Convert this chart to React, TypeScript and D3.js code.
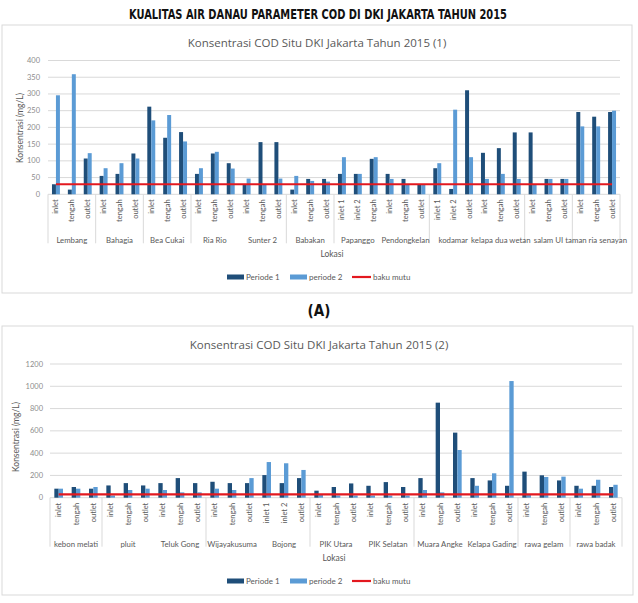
import * as d3 from "d3";

const PERIODE1_COLOR = "#1f4e79";
const PERIODE2_COLOR = "#5b9bd5";
const BAKU_COLOR = "#e3181f";
const GRID = "#d9d9d9";
const TEXT = "#595959";
const FONT = "Lato, 'Open Sans', sans-serif";

const bakuMutu = 30;
const legendLabels = ["Periode 1", "periode 2", "baku mutu"];

// chart (1)
const topGroups = [
  "Lembang", "Bahagia", "Bea Cukai", "Ria Rio", "Sunter 2", "Babakan",
  "Papanggo", "Pendongkelan", "kodamar", "kelapa dua wetan", "salam UI",
  "taman ria senayan",
];
const topPoints = [
  ["inlet", "tengah", "outlet"], ["inlet", "tengah", "outlet"],
  ["inlet", "tengah", "outlet"], ["inlet", "tengah", "outlet"],
  ["inlet", "tengah", "outlet"], ["inlet", "tengah", "outlet"],
  ["inlet 1", "inlet 2", "tengah"], ["inlet", "tengah", "outlet"],
  ["inlet 1", "inlet 2", "outlet"], ["inlet", "tengah", "outlet"],
  ["inlet", "tengah", "outlet"], ["inlet", "tengah", "outlet"],
];
const topPeriode1 = [
  30, 14, 107, 55, 61, 122, 262, 169, 186, 61, 122, 93, 30, 156, 156, 14, 46, 46,
  61, 61, 106, 61, 46, 30, 78, 16, 311, 124, 138, 185, 185, 46, 46, 246, 232, 246,
];
const topPeriode2 = [
  296, 359, 123, 78, 93, 107, 221, 237, 158, 78, 127, 77, 47, 30, 47, 55, 40, 38,
  111, 61, 111, 46, 30, 30, 93, 253, 111, 46, 61, 46, 30, 46, 46, 203, 203, 250,
];
const topDividers = [1, 2, 3, 5, 6, 8, 10, 11];
const topTicks = [0, 50, 100, 150, 200, 250, 300, 350, 400];

// chart (2)
const bottomGroups = [
  "kebon melati", "pluit", "Teluk Gong", "Wijayakusuma", "Bojong", "PIK Utara",
  "PIK Selatan", "Muara Angke", "Kelapa Gading", "rawa gelam", "rawa badak",
];
const bottomPoints = [
  ["inlet", "tengah", "outlet"], ["inlet", "tengah", "outlet"],
  ["inlet", "tengah", "outlet"], ["inlet", "tengah", "outlet"],
  ["inlet 1", "inlet 2", "outlet"], ["inlet", "tengah", "outlet"],
  ["inlet", "tengah", "outlet"], ["inlet", "tengah", "outlet"],
  ["inlet", "tengah", "outlet"], ["inlet", "tengah", "outlet"],
  ["inlet", "tengah", "outlet"],
];
const bottomPeriode1 = [
  81, 96, 81, 110, 131, 110, 131, 176, 131, 143, 131, 131, 203, 131, 176,
  63, 96, 128, 107, 140, 96, 176, 853, 584, 176, 155, 107, 234, 201, 155, 107, 107, 96,
];
const bottomPeriode2 = [
  81, 81, 96, 20, 69, 81, 69, 48, 48, 81, 69, 176, 320, 309, 249,
  24, 20, 20, 20, 20, 20, 69, 48, 428, 107, 219, 1047, 24, 186, 189, 81, 161, 116,
];
const bottomDividers = [1, 3, 5, 7, 9, 10];
const bottomTicks = [0, 200, 400, 600, 800, 1000, 1200];

type PanelProps = {
  box: [number, number, number, number];
  title: string;
  titleY: number;
  plotX: [number, number];
  plotY: [number, number];
  ticks: number[];
  tickRight: number;
  yLabelX: number;
  yLabelY: number;
  groups: string[];
  points: string[][];
  p1: number[];
  p2: number[];
  dividers: number[];
  legendY: number;
};

function Panel(props: PanelProps) {
  const { box, plotX, plotY, ticks, groups, points } = props;
  const cats = points.flatMap((pts, g) => pts.map((p, j) => `${g}-${j}`));
  const x = d3.scaleBand<string>().domain(cats).range(plotX);
  const y = d3
    .scaleLinear()
    .domain([0, ticks[ticks.length - 1]])
    .range(plotY);
  const bw = x.bandwidth() * 0.25;
  const center = (c: string) => (x(c) ?? 0) + x.bandwidth() / 2;
  const bottom = plotY[0];

  const line = d3
    .line<string>()
    .x((c) => center(c))
    .y(() => y(bakuMutu));

  const labelTop = bottom + 5;
  const groupY = bottom + 46;
  const divEnd = bottom + 49;

  return (
    <g>
      <rect
        x={box[0]}
        y={box[1]}
        width={box[2] - box[0]}
        height={box[3] - box[1]}
        fill="white"
        stroke={GRID}
      />
      <text
        x={(plotX[0] + plotX[1]) / 2 - 17}
        y={props.titleY}
        textAnchor="middle"
        fontSize={11.5}
        fill={TEXT}
        fontFamily="'Open Sans', sans-serif"
      >
        {props.title}
      </text>
      {ticks.map((t) => (
        <g key={t}>
          <line x1={plotX[0]} x2={plotX[1]} y1={y(t)} y2={y(t)} stroke={GRID} />
          <text
            x={props.tickRight}
            y={y(t)}
            textAnchor="end"
            dominantBaseline="central"
            fontSize={7.5}
            fill="#8c8c8c"
            fontFamily={FONT}
          >
            {t}
          </text>
        </g>
      ))}
      <text
        transform={`translate(${props.yLabelX},${props.yLabelY}) rotate(-90)`}
        textAnchor="middle"
        dominantBaseline="central"
        fontSize={8.5}
        fill={TEXT}
        fontFamily={FONT}
      >
        Konsentrasi (mg/L)
      </text>
      {cats.map((c, i) => (
        <g key={c}>
          <rect
            x={center(c) - bw}
            y={y(props.p1[i])}
            width={bw}
            height={bottom - y(props.p1[i])}
            fill={PERIODE1_COLOR}
          />
          <rect
            x={center(c)}
            y={y(props.p2[i])}
            width={bw}
            height={bottom - y(props.p2[i])}
            fill={PERIODE2_COLOR}
          />
        </g>
      ))}
      <path d={line(cats) ?? ""} stroke={BAKU_COLOR} strokeWidth={2.2} fill="none" />
      {cats.map((c, i) => {
        const [g, j] = c.split("-").map(Number);
        return (
          <text
            key={`lab-${i}`}
            transform={`translate(${center(c)},${labelTop}) rotate(-90)`}
            textAnchor="end"
            dominantBaseline="central"
            fontSize={7.5}
            fill={TEXT}
            fontFamily={FONT}
          >
            {points[g][j]}
          </text>
        );
      })}
      {[0, ...props.dividers, groups.length].map((g) => {
        const idx = points.slice(0, g).reduce((s, p) => s + p.length, 0);
        const xx = idx < cats.length ? x(cats[idx]) ?? 0 : plotX[1];
        return (
          <line
            key={`div-${g}`}
            x1={xx}
            x2={xx}
            y1={bottom}
            y2={divEnd}
            stroke={GRID}
          />
        );
      })}
      {groups.map((name, g) => {
        const idx = points.slice(0, g).reduce((s, p) => s + p.length, 0);
        const first = cats[idx];
        const last = cats[idx + points[g].length - 1];
        return (
          <text
            key={name}
            x={(center(first) + center(last)) / 2}
            y={groupY}
            textAnchor="middle"
            dominantBaseline="central"
            fontSize={7.8}
            fill={TEXT}
            fontFamily={FONT}
          >
            {name}
          </text>
        );
      })}
      <text
        x={(plotX[0] + plotX[1]) / 2 - 2}
        y={groupY + 14}
        textAnchor="middle"
        dominantBaseline="central"
        fontSize={8.5}
        fill={TEXT}
        fontFamily={FONT}
      >
        Lokasi
      </text>
      <g fontFamily={FONT} fontSize={8} fill={TEXT}>
        <rect x={227} y={props.legendY - 2.5} width={17} height={5} fill={PERIODE1_COLOR} />
        <text x={246} y={props.legendY} dominantBaseline="central">
          {legendLabels[0]}
        </text>
        <rect x={290} y={props.legendY - 2.5} width={17} height={5} fill={PERIODE2_COLOR} />
        <text x={309} y={props.legendY} dominantBaseline="central">
          {legendLabels[1]}
        </text>
        <line
          x1={352}
          x2={371}
          y1={props.legendY}
          y2={props.legendY}
          stroke={BAKU_COLOR}
          strokeWidth={2.2}
        />
        <text x={373} y={props.legendY} dominantBaseline="central">
          {legendLabels[2]}
        </text>
      </g>
    </g>
  );
}

export default function App() {
  return (
    <svg
      width={638}
      height={603}
      style={{ position: "absolute", left: 0, top: 0, background: "white" }}
    >
      <rect width={638} height={603} fill="white" />
      <text
        x={318}
        y={19}
        textAnchor="middle"
        fontSize={14}
        fontWeight="bold"
        fontFamily="'Liberation Sans Narrow', 'DejaVu Sans Condensed', sans-serif"
        textLength={378}
        lengthAdjust="spacingAndGlyphs"
        fill="#111"
      >
        KUALITAS AIR DANAU PARAMETER COD DI DKI JAKARTA TAHUN 2015
      </text>
      <Panel
        box={[2, 25, 632, 293]}
        title="Konsentrasi COD Situ DKI Jakarta Tahun 2015 (1)"
        titleY={47}
        plotX={[48, 620]}
        plotY={[194.3, 60.5]}
        ticks={topTicks}
        tickRight={40}
        yLabelX={20}
        yLabelY={128}
        groups={topGroups}
        points={topPoints}
        p1={topPeriode1}
        p2={topPeriode2}
        dividers={topDividers}
        legendY={277}
      />
      <text
        x={319}
        y={316}
        textAnchor="middle"
        fontSize={15}
        fontWeight="bold"
        fontFamily="'Liberation Sans Narrow', 'DejaVu Sans Condensed', sans-serif"
        fill="#111"
      >
        (A)
      </text>
      <Panel
        box={[2, 326, 633, 595]}
        title="Konsentrasi COD Situ DKI Jakarta Tahun 2015 (2)"
        titleY={349}
        plotX={[50, 622]}
        plotY={[497.7, 364]}
        ticks={bottomTicks}
        tickRight={43}
        yLabelX={16}
        yLabelY={437}
        groups={bottomGroups}
        points={bottomPoints}
        p1={bottomPeriode1}
        p2={bottomPeriode2}
        dividers={bottomDividers}
        legendY={581}
      />
    </svg>
  );
}
